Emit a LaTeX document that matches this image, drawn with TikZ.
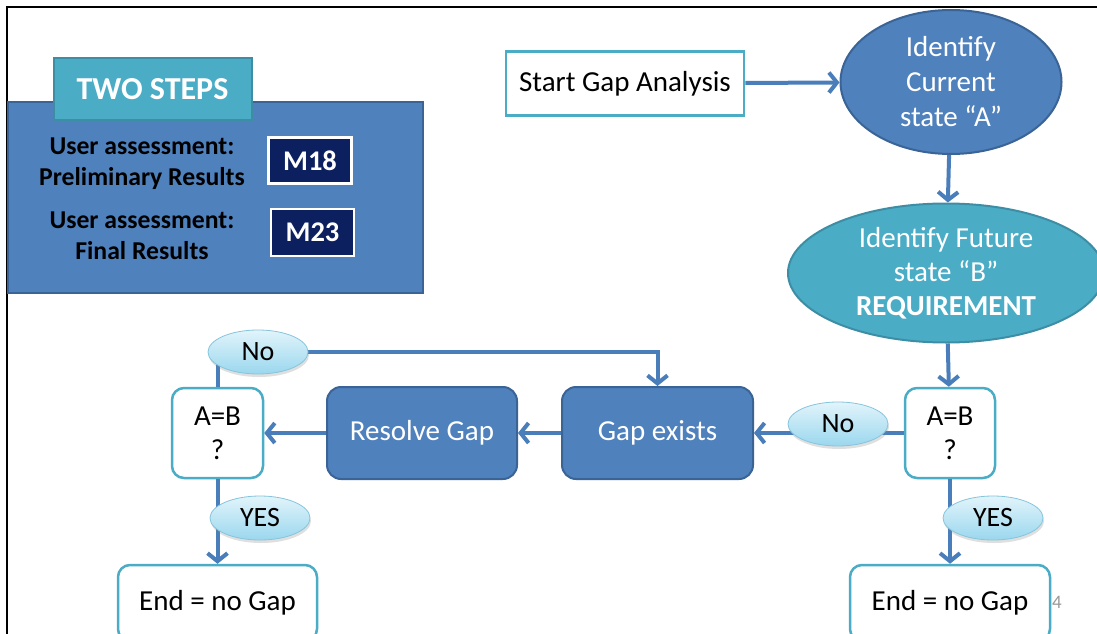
\documentclass[tikz,border=0pt]{standalone}
\usepackage{fontspec}
\setmainfont{Carlito}
\usetikzlibrary{arrows.meta,shapes.geometric,shadows}
\definecolor{blueF}{HTML}{4F81BD}
\definecolor{blueD}{HTML}{3A6396}
\definecolor{tealF}{HTML}{4BACC6}
\definecolor{tealD}{HTML}{3D8EA5}
\definecolor{navy}{HTML}{0C1F5E}
\definecolor{arrowc}{HTML}{4A7EBB}
\definecolor{lblT}{HTML}{E2F4FB}
\definecolor{lblB}{HTML}{9AD7EE}
\definecolor{lblD}{HTML}{86C5DC}
\newcommand{\fsz}[2]{\fontsize{#1}{#2}\selectfont}
\tikzset{
  conn/.style={draw=arrowc, line width=4pt},
  arr/.style={conn, -{Straight Barb[length=8pt,width=20pt]}},
  panelbox/.style={rectangle, fill=blueF, draw=blueD, line width=2pt},
  tabbox/.style={rectangle, fill=tealF, draw=tealD, line width=2pt, text=white, font=\bfseries\fsz{32}{36}},
  mbox/.style={rectangle, fill=navy, draw=white, line width=2.5pt, text=white, font=\bfseries\fsz{28.5}{30}},
  asstext/.style={align=center, font=\bfseries\fsz{25.7}{31}, text=black},
  startbox/.style={rectangle, fill=white, draw=tealF, line width=2.5pt, font=\fsz{29}{33}},
  ellA/.style={ellipse, fill=blueF, draw=blueD, line width=2pt, text=white, align=center, inner sep=0pt, font=\fsz{29}{35}},
  ellB/.style={ellipse, fill=tealF, draw=tealD, line width=2pt, text=white, align=center, inner sep=0pt, font=\fsz{29}{34}},
  bluebox/.style={rectangle, rounded corners=14pt, fill=blueF, draw=blueD, line width=2pt, text=white, font=\fsz{29}{33}},
  whitebox/.style={rectangle, rounded corners=12pt, fill=white, draw=tealF, line width=2.5pt, align=center, font=\fsz{29}{34}},
  lbl/.style={ellipse, top color=lblT, bottom color=lblB, draw=lblD, line width=0.8pt, inner sep=0pt, minimum width=100pt, minimum height=44pt, font=\fsz{28}{30}, drop shadow={opacity=0.25, shadow xshift=1pt, shadow yshift=-3pt}}
}
\begin{document}
\begin{tikzpicture}[x=1pt,y=-1pt]
\useasboundingbox (0,0) rectangle (1097,634);
\clip (0,0) rectangle (1097,634);
\fill[white] (0,0) rectangle (1097,634);
% frame
\draw[line width=2pt] (1097,7) -- (7,7) -- (7,640);

% two steps panel
\node[panelbox, minimum width=415pt, minimum height=191pt] (panel) at (215.5,197.5) {};
\node[tabbox, minimum width=198pt, minimum height=62pt] (tab) at (152.5,89) {TWO STEPS};
\node[asstext] (ua1) at (142,164) {User assessment:\\Preliminary Results};
\node[asstext] (ua2) at (142,236) {User assessment:\\Final Results};
\node[mbox, minimum width=83pt, minimum height=46pt] (m18) at (310,160.5) {M18};
\node[mbox, minimum width=83pt, minimum height=47pt] (m23) at (312.5,232.5) {M23};

% flow nodes
\node[startbox, minimum width=238pt, minimum height=64pt] (start) at (625,83.5) {Start Gap Analysis};
\node[ellA, minimum width=221pt, minimum height=144pt] (cur) at (951,82) {Identify\\Current\\state “A”};
\node[ellB, minimum width=316pt, minimum height=139pt] (fut) at (946,273) {Identify Future\\state “B”\\\textbf{REQUIREMENT}};
\node[whitebox, minimum width=90pt, minimum height=90pt] (abR) at (950,433) {A=B\\?};
\node[bluebox, minimum width=191pt, minimum height=92pt] (gap) at (657.5,433) {Gap exists};
\node[bluebox, minimum width=190pt, minimum height=92pt] (res) at (422,433) {Resolve Gap};
\node[whitebox, minimum width=91pt, minimum height=90pt] (abL) at (217.5,433) {A=B\\?};
\node[whitebox, minimum width=199pt, minimum height=76pt] (endL) at (217.5,603) {End = no Gap};
\node[whitebox, minimum width=200pt, minimum height=76pt] (endR) at (950,603) {End = no Gap};
\node[text=black!40, font=\fsz{19}{20}] (pg) at (1057,602) {4};

% connectors
\draw[arr] (start) -- (cur);
\draw[arr] (cur) -- (fut);
\draw[arr] (fut) -- (abR);
\draw[arr] (abR) -- (gap);
\draw[arr] (gap) -- (res);
\draw[arr] (res) -- (abL);
\coordinate (loop) at (217.5,352);
\draw[arr] (abL.north) -- (loop) -| (gap.north);
\draw[arr] (abL) -- (endL);
\draw[arr] (abR) -- (endR);

% labels
\node[lbl] (noR) at (838,424) {No};
\node[lbl] (noL) at (258,352) {No};
\node[lbl] (yesL) at (260,518) {YES};
\node[lbl] (yesR) at (993,518) {YES};
\end{tikzpicture}
\end{document}
